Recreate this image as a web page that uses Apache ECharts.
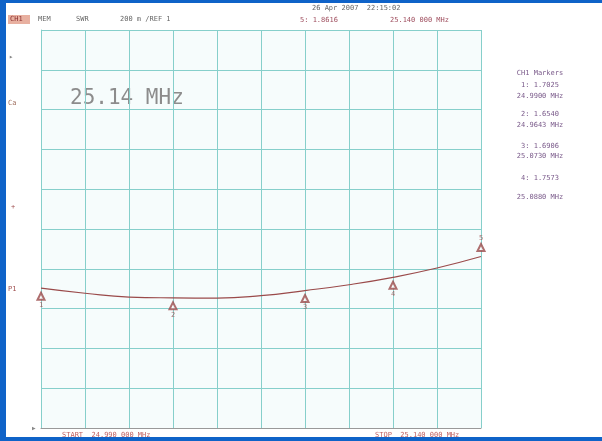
<!DOCTYPE html>
<html>
<head>
<meta charset="utf-8">
<script src="https://cdn.jsdelivr.net/npm/echarts@6/dist/echarts.min.js"></script>
<style>
  html, body { margin: 0; padding: 0; background: #fff; }
  #chart { width: 602px; height: 441px; }
</style>
</head>
<body>
<div id="chart"></div>
<script>
// frequency in kHz, SWR
var freqs = [24990, 25005, 25020, 25035, 25050, 25065, 25080, 25095, 25110, 25125, 25140]
var swr = [1.7025, 1.677, 1.658, 1.654, 1.653, 1.665, 1.6906, 1.72, 1.7573, 1.804, 1.8616]

// markers 1..5
var markerNames = ['1', '2', '3', '4', '5']
var markerFreqs = [24990, 25035, 25080, 25110, 25140]
var markerSwr = [1.7025, 1.6540, 1.6906, 1.7573, 1.8616]

var markerList = [
  'CH1 Markers',
  '1: 1.7025', '24.9900 MHz',
  '2: 1.6540', '24.9643 MHz',
  '3: 1.6906', '25.0730 MHz',
  '4: 1.7573', '25.0880 MHz'
]

var mono = '"DejaVu Sans Mono", "Liberation Mono", monospace'
var gridColor = '#86cfcb'
var traceColor = '#9a4a4a'

var chart = echarts.init(document.getElementById('chart'))

// 小文字
function txt(x, y, s, color, size) {
  return {
    type: 'text', left: x, top: y,
    style: { text: s, fill: color, font: (size || 7) + 'px ' + mono }
  }
}

var graphics = [
  // 蓝色边框
  { type: 'rect', shape: { x: 0, y: 0, width: 6, height: 441 }, style: { fill: '#0f63c8' } },
  { type: 'rect', shape: { x: 0, y: 0, width: 602, height: 3 }, style: { fill: '#0f63c8' } },
  { type: 'rect', shape: { x: 0, y: 437, width: 602, height: 4 }, style: { fill: '#0f63c8' } },
  { type: 'rect', shape: { x: 8, y: 15, width: 22, height: 9 }, style: { fill: '#e8b0a0' } },
  txt(10, 16, 'CH1', '#8a3030'),
  txt(38, 16, 'MEM', '#666'),
  txt(76, 16, 'SWR', '#666'),
  txt(120, 16, '200 m /REF 1', '#666'),
  txt(312, 5, '26 Apr 2007  22:15:02', '#666'),
  txt(300, 17, '5: 1.8616', '#a05060'),
  txt(390, 17, '25.140 000 MHz', '#a05060'),
  txt(70, 88, '25.14 MHz', '#8c8c8c', 21),
  txt(9, 54, '\u25B8', '#888'),
  txt(8, 100, 'Ca', '#a07060'),
  txt(11, 204, '+', '#a05050'),
  txt(8, 286, 'P1', '#a05050'),
  txt(32, 425, '\u25B6', '#888', 6),
  txt(62, 432, 'START  24.990 000 MHz', '#c06060'),
  txt(375, 432, 'STOP  25.140 000 MHz', '#c06060')
]
var my = [70, 82, 93, 111, 122, 143, 153, 175, 194]
markerList.forEach(function (s, i) {
  graphics.push({
    type: 'text', x: 540, y: my[i],
    style: { text: s, fill: '#7a5a8a', font: '7px ' + mono, align: 'center' }
  })
})

var options = {
  backgroundColor: '#fff',
  animation: false,
  grid: { left: 41, top: 30, width: 440, height: 398, show: true, backgroundColor: '#f6fcfc', borderWidth: 0 },
  xAxis: {
    type: 'value',
    min: 24990,
    max: 25140,
    interval: 15,
    axisLabel: { show: false },
    axisTick: { show: false },
    axisLine: { show: true, lineStyle: { color: '#999', width: 1 } },
    splitLine: { show: true, lineStyle: { color: gridColor, width: 1 } }
  },
  yAxis: {
    type: 'value',
    min: 1,
    max: 3,
    interval: 0.2,
    axisLabel: { show: false },
    axisTick: { show: false },
    axisLine: { show: true, lineStyle: { color: gridColor } },
    splitLine: { show: true, lineStyle: { color: gridColor, width: 1 } }
  },
  series: [
    {
      type: 'line',
      smooth: true,
      symbol: 'none',
      lineStyle: { color: traceColor, width: 1.2 },
      data: freqs.map(function (f, i) { return [f, swr[i]] })
    },
    {
      type: 'scatter',
      symbol: 'emptyTriangle',
      symbolSize: 7,
      itemStyle: { color: traceColor, borderColor: traceColor, borderWidth: 1 },
      data: markerFreqs.map(function (f, i) {
        var up = i === 4
        return {
          value: [f, markerSwr[i]],
          symbolOffset: [0, up ? -9 : 8],
          label: {
            show: true,
            formatter: markerNames[i],
            position: up ? 'top' : 'bottom',
            distance: 1,
            color: traceColor,
            fontSize: 7,
            fontFamily: mono
          }
        }
      })
    }
  ],
  graphic: graphics
}

chart.setOption(options)
</script>
</body>
</html>
